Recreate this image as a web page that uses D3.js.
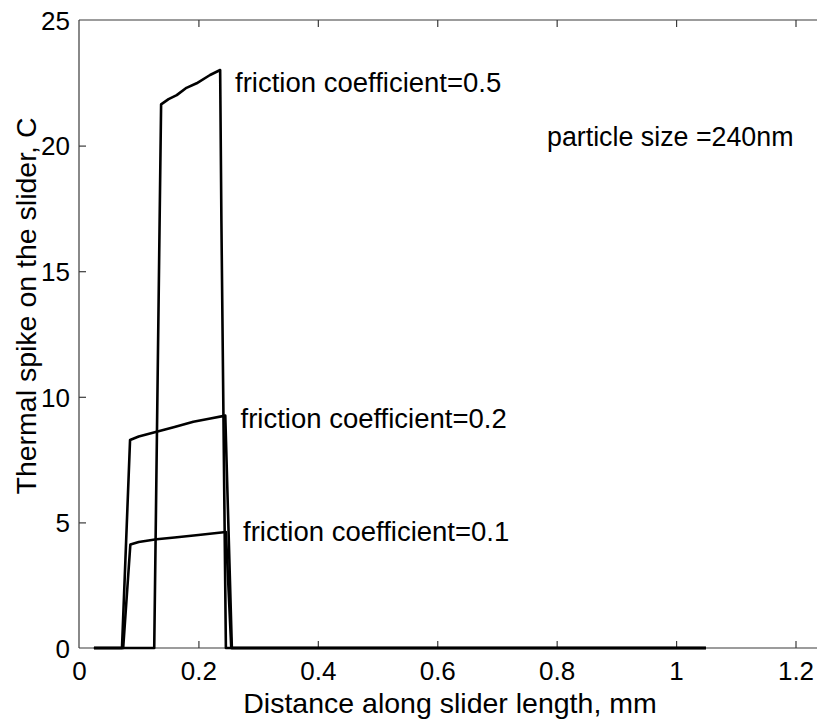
<!DOCTYPE html>
<html><head><meta charset="utf-8">
<script src="https://cdn.jsdelivr.net/npm/d3@7"></script>
<style>
html,body{margin:0;padding:0;background:#fff;}
text{font-family:"Liberation Sans",Arial,Helvetica,sans-serif;fill:#000;}
</style></head>
<body><svg id="chart" width="817" height="723"></svg>
<script>
// ---- data (x in mm, y in C) ----
const series01X = [0.025, 0.074, 0.086, 0.10, 0.13, 0.16, 0.20, 0.246, 0.255, 1.05];
const series01Y = [0, 0, 4.12, 4.22, 4.33, 4.40, 4.50, 4.62, 0, 0];
const series02X = [0.025, 0.072, 0.0855, 0.10, 0.13, 0.16, 0.1915, 0.22, 0.245, 0.256, 1.05];
const series02Y = [0, 0, 8.28, 8.42, 8.61, 8.80, 9.01, 9.14, 9.25, 0, 0];
const series05X = [0.025, 0.126, 0.1375, 0.15, 0.1637, 0.18, 0.197, 0.2195, 0.2364, 0.2385, 0.246, 1.05];
const series05Y = [0, 0, 21.64, 21.85, 22.01, 22.3, 22.48, 22.81, 23.01, 17.0, 0, 0];
const seriesLabels = ["friction coefficient=0.1", "friction coefficient=0.2", "friction coefficient=0.5"];
const labelX = [0.2747, 0.2705, 0.2613];
const labelY = [4.26, 8.76, 22.13];
const noteText = "particle size =240nm";
const noteX = 0.7838, noteY = 19.98;
const xTicks = [0, 0.2, 0.4, 0.6, 0.8, 1, 1.2];
const xTickLabels = ["0", "0.2", "0.4", "0.6", "0.8", "1", "1.2"];
const yTicks = [0, 5, 10, 15, 20, 25];
const yTickLabels = ["0", "5", "10", "15", "20", "25"];
const xTitle = "Distance along slider length, mm";
const yTitle = "Thermal spike on the slider, C";

(function () {
const svg = d3.select("#chart");
const pLeft = 79, pTop = 20, pBottom = 648, pRightEdge = 840;
const x = d3.scaleLinear().domain([0, 1.2]).range([pLeft, 795.5]);
const y = d3.scaleLinear().domain([0, 25]).range([pBottom, pTop]);

// frame
const frameColor = "#3a3a3a";
svg.append("line").attr("x1", pLeft).attr("x2", pRightEdge).attr("y1", pTop).attr("y2", pTop).attr("stroke", frameColor).attr("stroke-width", 1.2);
svg.append("line").attr("x1", pLeft).attr("x2", pRightEdge).attr("y1", pBottom).attr("y2", pBottom).attr("stroke", frameColor).attr("stroke-width", 1.2);
svg.append("line").attr("x1", pLeft).attr("x2", pLeft).attr("y1", pTop).attr("y2", pBottom).attr("stroke", frameColor).attr("stroke-width", 1.2);

// axes (inward ticks)
const fs = 26;
const xAxisB = d3.axisBottom(x).tickValues(xTicks).tickFormat((d, i) => xTickLabels[i]).tickSize(-7).tickPadding(14);
const gxb = svg.append("g").attr("transform", `translate(0,${pBottom})`).call(xAxisB);
const xAxisT = d3.axisTop(x).tickValues(xTicks).tickFormat("").tickSize(-7);
const gxt = svg.append("g").attr("transform", `translate(0,${pTop})`).call(xAxisT);
const yAxisL = d3.axisLeft(y).tickValues(yTicks).tickFormat((d, i) => yTickLabels[i]).tickSize(-7).tickPadding(9);
const gyl = svg.append("g").attr("transform", `translate(${pLeft},0)`).call(yAxisL);
[gxb, gxt, gyl].forEach(g => {
  g.select(".domain").remove();
  g.selectAll(".tick line").attr("stroke", frameColor).attr("stroke-width", 1.2);
  g.selectAll("text").attr("font-size", fs).attr("font-family", "Liberation Sans, Arial, sans-serif").attr("fill", "#000");
});
gxb.selectAll(".tick line").filter(d => d === 0).remove();
gxt.selectAll(".tick line").filter(d => d === 0).remove();
gyl.selectAll(".tick line").filter(d => d === 0 || d === 25).remove();
gxb.selectAll("text").attr("dy", null).attr("y", 32);
gyl.selectAll("text").attr("dy", "0.36em").attr("x", -9);

// lines
const line = d3.line().x(d => x(d[0])).y(d => y(d[1]));
const allSeries = [
  d3.zip(series01X, series01Y),
  d3.zip(series02X, series02Y),
  d3.zip(series05X, series05Y)
];
allSeries.forEach(s => {
  svg.append("path").datum(s).attr("d", line).attr("fill", "none")
    .attr("stroke", "#000").attr("stroke-width", 2.6).attr("stroke-linejoin", "round");
});

// labels
seriesLabels.forEach((t, i) => {
  svg.append("text").attr("x", x(labelX[i])).attr("y", y(labelY[i])).attr("font-size", 27.5).text(t);
});
svg.append("text").attr("x", x(noteX)).attr("y", y(noteY)).attr("font-size", 26.8).text(noteText);

// titles
svg.append("text").attr("x", 450).attr("y", 713).attr("text-anchor", "middle").attr("font-size", 28.5).text(xTitle);
svg.append("text").attr("transform", "translate(36,306) rotate(-90)").attr("text-anchor", "middle").attr("font-size", 28.5).text(yTitle);
})();
</script>
</body></html>
